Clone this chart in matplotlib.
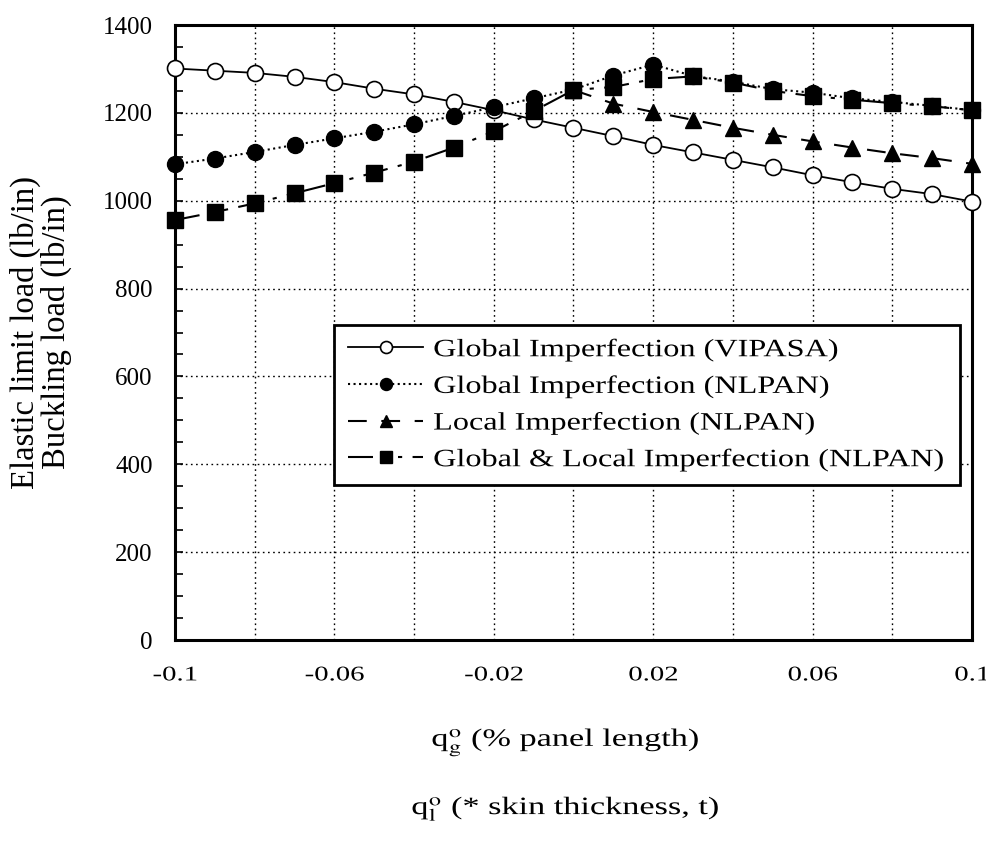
import numpy as np
import matplotlib
matplotlib.use("Agg")
import matplotlib.pyplot as plt
from matplotlib.ticker import MultipleLocator
from matplotlib.patheffects import AbstractPathEffect
from matplotlib.transforms import Affine2D

plt.rcParams["font.family"] = ["Liberation Serif", "DejaVu Serif"]
plt.rcParams["mathtext.fontset"] = "stix"

# imperfection amplitude
x = [-0.1, -0.09, -0.08, -0.07, -0.06, -0.05, -0.04, -0.03, -0.02, -0.01, 0.0,
     0.01, 0.02, 0.03, 0.04, 0.05, 0.06, 0.07, 0.08, 0.09, 0.1]
x_local = [0.0, 0.01, 0.02, 0.03, 0.04, 0.05, 0.06, 0.07, 0.08, 0.09, 0.1]

global_vipasa = [1301, 1296, 1291, 1282, 1270, 1255, 1242, 1225, 1206, 1185, 1166,
                 1147, 1127, 1110, 1093, 1076, 1058, 1042, 1027, 1015, 998]
global_nlpan = [1083, 1096, 1111, 1127, 1142, 1157, 1174, 1193, 1213, 1233, 1253,
                1285, 1310, 1284, 1271, 1254, 1246, 1233, 1225, 1216, 1206]
local_nlpan = [1252, 1221, 1202, 1184, 1166, 1150, 1135, 1121, 1108, 1097, 1084]
glob_local_nlpan = [956, 974, 994, 1017, 1040, 1064, 1089, 1121, 1158, 1204, 1252,
                    1259, 1277, 1283, 1269, 1250, 1238, 1230, 1222, 1215, 1206]

labels = ["Global Imperfection (VIPASA)", "Global Imperfection (NLPAN)",
          "Local Imperfection (NLPAN)", "Global & Local Imperfection (NLPAN)"]
xtick_labels = ["-0.1", "", "-0.06", "", "-0.02", "", "0.02", "", "0.06", "", "0.1"]


class Widen(AbstractPathEffect):
    # the scanned figure uses a horizontally stretched Times face
    def __init__(self, sx, center=False):
        super().__init__()
        self.sx = sx
        self.center = center

    def draw_path(self, renderer, gc, tpath, affine, rgbFace=None):
        c = 0.0
        if self.center and len(tpath.vertices):
            c = 0.5 * (tpath.vertices[:, 0].min() + tpath.vertices[:, 0].max())
        stretch = Affine2D().translate(-c, 0).scale(self.sx, 1).translate(c, 0)
        renderer.draw_path(gc, tpath, stretch + affine, rgbFace)


fig = plt.figure(figsize=(9.87, 8.42), dpi=100)
ax = fig.add_axes([0.1773, 0.2399, 0.8075, 0.7304])

ms = 11.5
ax.plot(x, global_vipasa, "-", color="black", lw=1.3, marker="o", ms=ms,
        mfc="white", mec="black", mew=1.2, clip_on=False, zorder=3, label=labels[0])
ax.plot(x, global_nlpan, ":", color="black", lw=1.5, marker="o", ms=ms,
        mfc="black", mec="black", clip_on=False, zorder=4, label=labels[1])
ax.plot(x_local, local_nlpan, color="black", lw=1.5, dashes=(9, 7), marker="^",
        ms=ms, mfc="black", mec="black", clip_on=False, zorder=4, label=labels[2])
ax.plot(x, glob_local_nlpan, color="black", lw=1.5, dashes=(12, 5, 2, 5, 2, 5),
        marker="s", ms=ms - 0.5, mfc="black", mec="black", clip_on=False, zorder=5,
        label=labels[3])

ax.set_xlim(-0.1, 0.1)
ax.set_ylim(0, 1400)

ax.set_xticks(np.round(np.arange(-0.1, 0.1001, 0.02), 2))
ax.set_xticklabels(xtick_labels)
ax.tick_params(axis="x", length=0, pad=19, labelsize=15)
for t in ax.get_xticklabels():
    t.set_path_effects([Widen(1.38, center=True)])

ax.yaxis.set_major_locator(MultipleLocator(200))
ax.yaxis.set_minor_locator(MultipleLocator(50))
ax.tick_params(axis="y", which="both", direction="in", length=6, width=1.2,
               labelsize=18, pad=16)

ax.grid(True, which="major", color="black", linestyle=(0, (1.2, 2.5)), lw=1.0)
for s in ax.spines.values():
    s.set_linewidth(2.2)

ax.set_ylabel("Elastic limit load (lb/in)\nBuckling load (lb/in)", fontsize=23.5,
              labelpad=22, linespacing=1.0)

t1 = fig.text(0.573, 0.114, r"q$^{\rm o}_{\rm g}$ (% panel length)", fontsize=18, ha="center")
t2 = fig.text(0.573, 0.033, r"q$^{\rm o}_{\rm l}$ (* skin thickness, t)", fontsize=18, ha="center")
for t in (t1, t2):
    t.set_path_effects([Widen(1.37, center=True)])

leg = ax.legend(loc="upper left", bbox_to_anchor=(0.2, 0.0, 0.785, 0.513), mode="expand",
                borderaxespad=0, fontsize=18, markerscale=0.75,
                handlelength=3.0, handletextpad=0.4, borderpad=0.55, labelspacing=0.53,
                fancybox=False, framealpha=1, edgecolor="black")
leg.get_frame().set_linewidth(2.0)
for t in leg.get_texts():
    t.set_path_effects([Widen(1.29)])

fig.savefig("out.png", dpi=100)
